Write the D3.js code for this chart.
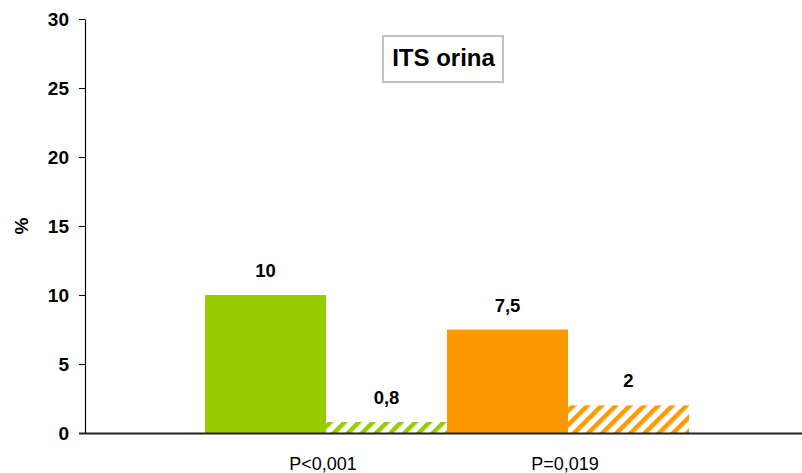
<!DOCTYPE html>
<html>
<head>
<meta charset="utf-8">
<script src="https://cdn.jsdelivr.net/npm/d3@7"></script>
<style>
  body { margin: 0; background: #fff; }
  svg { display: block; font-family: Arial, "Liberation Sans", sans-serif; }
  .axis-y text { font-size: 19px; font-weight: bold; fill: #000; }
  .axis-y path, .axis-y line { stroke: #000; }
</style>
</head>
<body>
<svg width="802" height="473"></svg>
<script>
const groups = ["P<0,001", "P=0,019"];
const series = ["solid", "hatched"];
const values = [[10, 0.8], [7.5, 2]];
const labels = [["10", "0,8"], ["7,5", "2"]];
const colors = ["#99cc00", "#ff9900"];
const yTicks = [0, 5, 10, 15, 20, 25, 30];

const svg = d3.select("svg");

const y = d3.scaleLinear().domain([0, 30]).range([433, 19]);
const x0 = d3.scaleBand().domain(groups).range([205, 689]).padding(0);
const x1 = d3.scaleBand().domain(series).range([0, x0.bandwidth()]).padding(0);

// hatch patterns
const defs = svg.append("defs");
colors.forEach((c, i) => {
  let p = defs.append("pattern")
    .attr("id", "hatch" + i)
    .attr("patternUnits", "userSpaceOnUse")
    .attr("width", 10)
    .attr("height", 10)
    .attr("patternTransform", "rotate(45)");
  p.append("rect").attr("width", 10).attr("height", 10).attr("fill", "#fff");
  p.append("rect").attr("width", 4.5).attr("height", 10).attr("fill", c);
});

const data = [];
groups.forEach((g, gi) => {
  series.forEach((s, si) => {
    data.push({ group: g, series: s, value: values[gi][si], label: labels[gi][si], gi: gi, si: si });
  });
});

svg.selectAll("rect.bar")
  .data(data)
  .enter()
  .append("rect")
  .attr("class", "bar")
  .attr("x", d => x0(d.group) + x1(d.series))
  .attr("y", d => y(d.value))
  .attr("width", x1.bandwidth())
  .attr("height", d => y(0) - y(d.value))
  .attr("fill", d => d.si === 0 ? colors[d.gi] : "url(#hatch" + d.gi + ")");

svg.selectAll("text.val")
  .data(data)
  .enter()
  .append("text")
  .attr("class", "val")
  .attr("x", d => x0(d.group) + x1(d.series) + x1.bandwidth() / 2)
  .attr("y", d => y(d.value) - 18)
  .attr("text-anchor", "middle")
  .style("font-size", "18.5px")
  .style("font-weight", "bold")
  .text(d => d.label);

// y axis
svg.append("g")
  .attr("class", "axis-y")
  .attr("transform", "translate(85,0)")
  .call(d3.axisLeft(y).tickValues(yTicks).tickSize(6).tickPadding(10).tickSizeOuter(0));

svg.select(".axis-y .domain").attr("stroke-width", 1.2);

// x axis line
svg.append("line")
  .attr("x1", 79)
  .attr("x2", 802)
  .attr("y1", y(0) + 0.5)
  .attr("y2", y(0) + 0.5)
  .attr("stroke", "#222")
  .attr("stroke-width", 2);

svg.selectAll("text.cat")
  .data(groups)
  .enter()
  .append("text")
  .attr("class", "cat")
  .attr("x", d => x0(d) + x0.bandwidth() / 2 - 3)
  .attr("y", 470)
  .attr("text-anchor", "middle")
  .style("font-size", "18px")
  .text(d => d);

svg.append("text")
  .attr("transform", "translate(28,226) rotate(-90)")
  .attr("text-anchor", "middle")
  .style("font-size", "19px")
  .style("font-weight", "bold")
  .text("%");

// title box
svg.append("rect")
  .attr("x", 383)
  .attr("y", 36)
  .attr("width", 120)
  .attr("height", 46)
  .attr("fill", "#fff")
  .attr("stroke", "#c0c0c0")
  .attr("stroke-width", 2);

svg.append("text")
  .attr("x", 443.5)
  .attr("y", 66)
  .attr("text-anchor", "middle")
  .style("font-size", "24px")
  .style("font-weight", "bold")
  .text("ITS orina");
</script>
</body>
</html>
